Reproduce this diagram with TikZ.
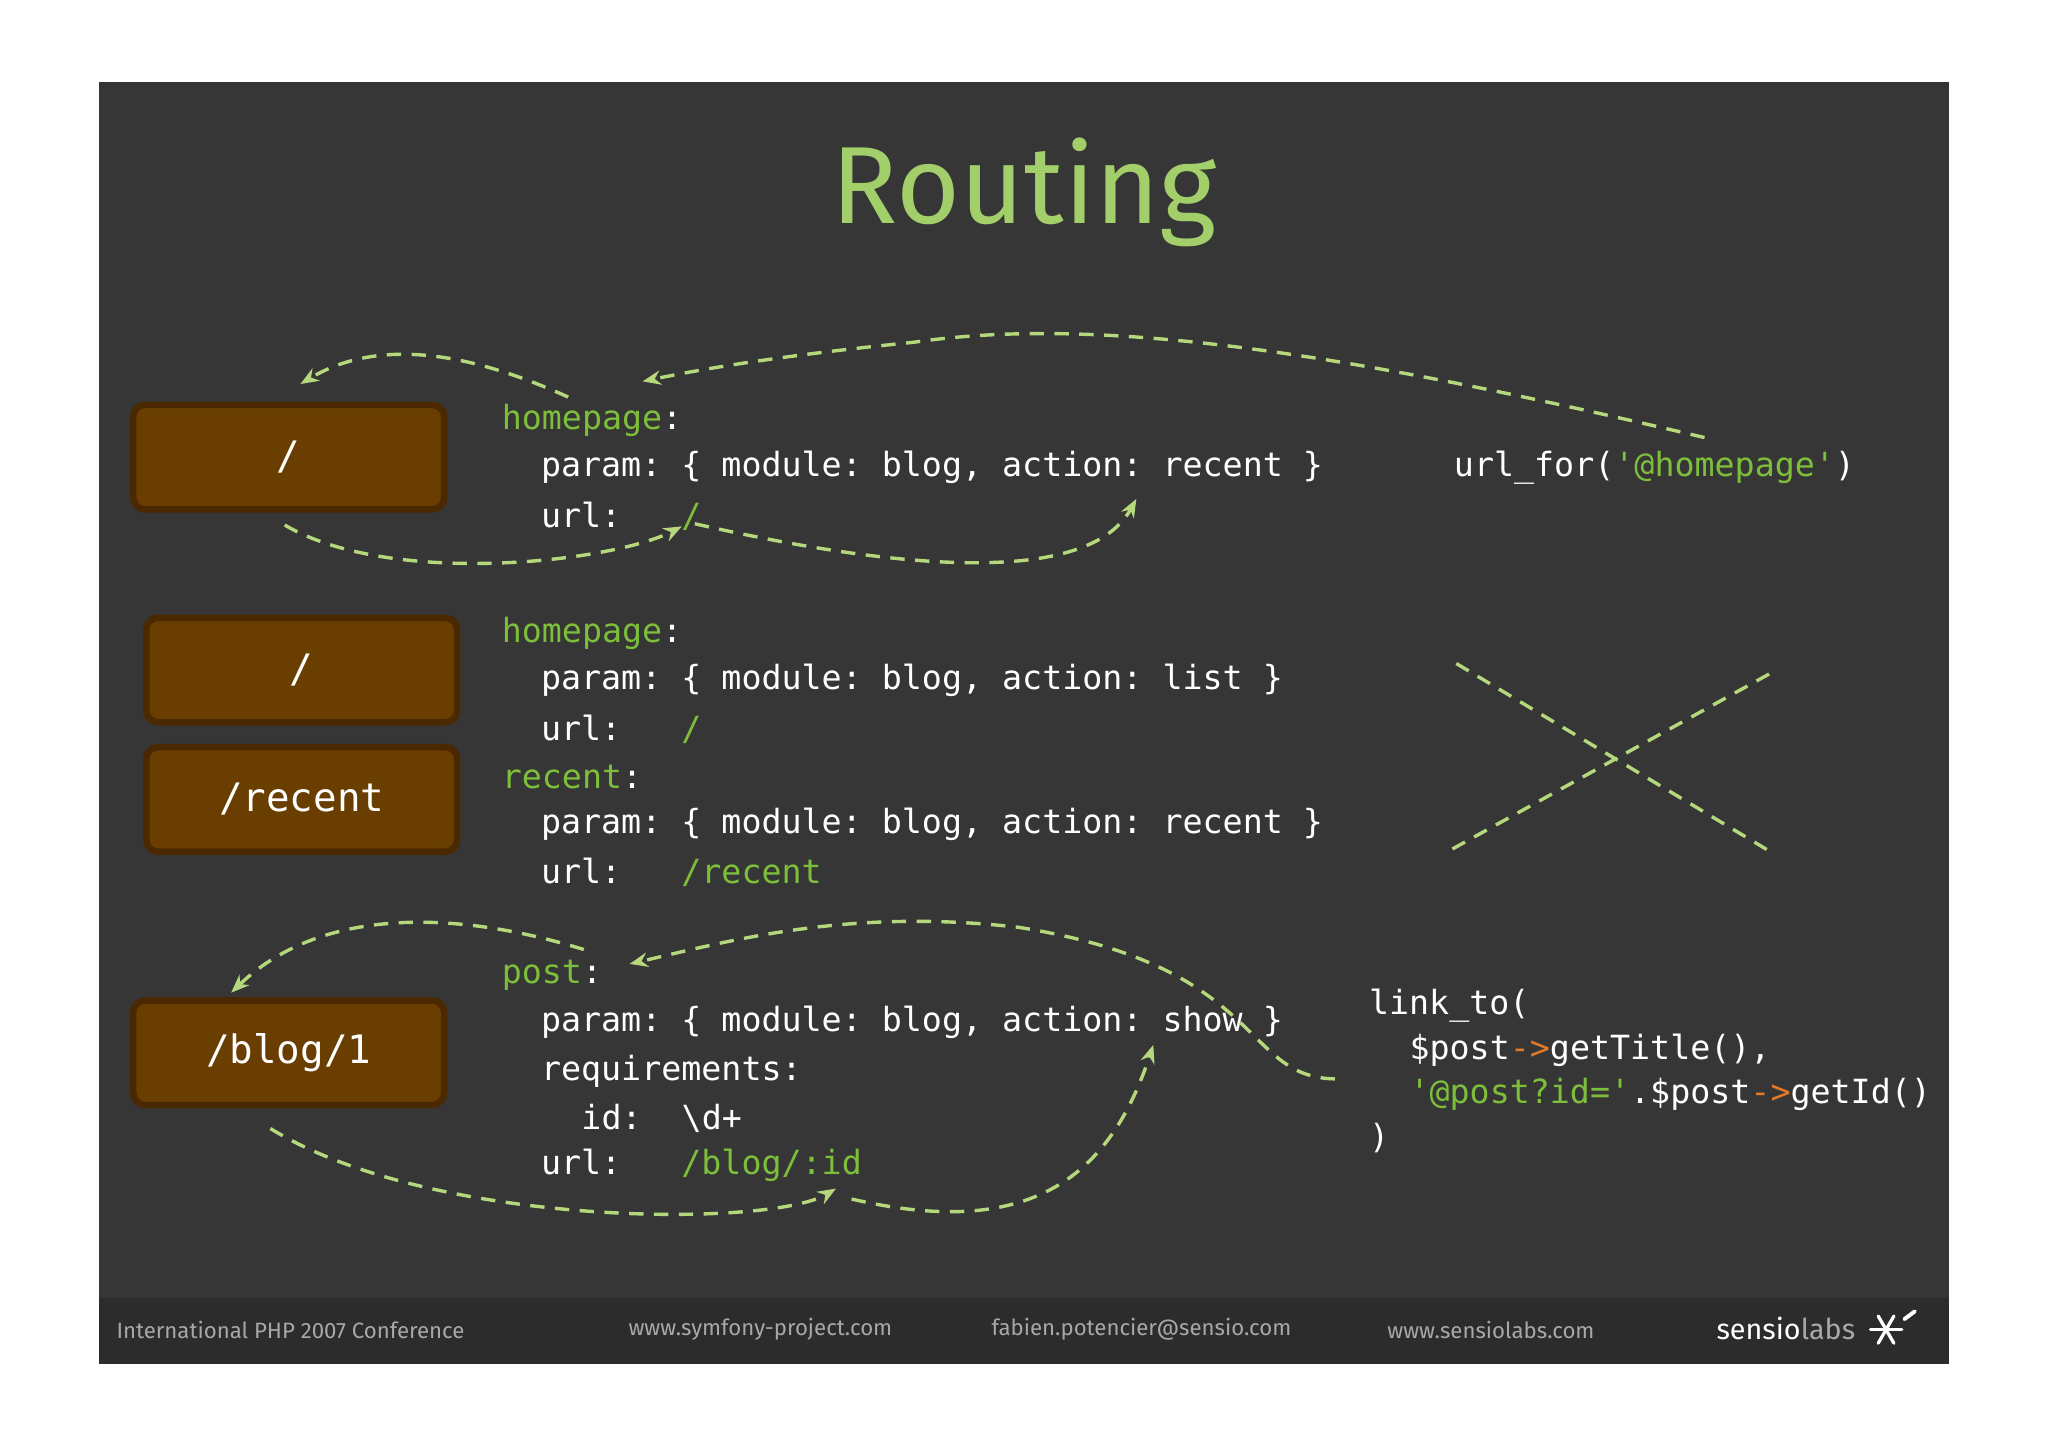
\documentclass[tikz,border=0pt]{standalone}
\usepackage{fontspec}
\setmonofont{DejaVu Sans Mono}
\setmainfont{Fira Sans}
\usetikzlibrary{arrows.meta}
\definecolor{bg}{HTML}{363636}
\definecolor{foot}{HTML}{2C2C2C}
\definecolor{kw}{HTML}{7DBF3A}
\definecolor{ttl}{HTML}{A3CF6A}
\definecolor{dash}{HTML}{B6D87C}
\definecolor{brown}{HTML}{6A3E00}
\definecolor{browndk}{HTML}{4A2900}
\definecolor{orng}{HTML}{E07A2A}
\definecolor{ft}{HTML}{A8A8A8}
\newcommand{\gr}[1]{\textcolor{kw}{#1}}
\newcommand{\orr}[1]{\textcolor{orng}{#1}}
\tikzset{
 code/.style={anchor=west,inner sep=0pt,text=white,font=\ttfamily\fontsize{25.5}{30}\selectfont},
 route/.style={draw=browndk,line width=5pt,fill=brown,rounded corners=9pt,text=white,font=\ttfamily\fontsize{30}{34}\selectfont,minimum width=238pt,minimum height=80pt},
 dl/.style={draw=dash,line width=2.6pt,dash pattern=on 11pt off 8pt,-{Stealth[length=14pt,width=11pt]}},
 dx/.style={draw=dash,line width=2.6pt,dash pattern=on 11pt off 8pt},
 foottxt/.style={anchor=west,inner sep=0pt,text=ft,font=\fontsize{17}{20}\selectfont},
}
\begin{document}
\begin{tikzpicture}[x=1pt,y=-1pt]
\useasboundingbox (0,0) rectangle (1568,1107);
\fill[white] (0,0) rectangle (1568,1107);
\fill[bg] (76,63) rectangle (1492,1044);
\fill[foot] (76,994) rectangle (1492,1044);
\node[text=ttl,font=\fontsize{84}{90}\selectfont] (title) at (784,147) {Routing};
% boxes
\node[route] (b1) at (221,350) {/};
\node[route] (b2) at (231,513) {/};
\node[route] (b3) at (231,612) {/recent};
\node[route] (b4) at (221,806) {/blog/1};
% code block 1
\node[code] (h1) at (384,322) {\gr{homepage}:};
\node[code] (p1) at (414,358) {param: \{ module: blog, action: recent \}};
\node[code] (u1) at (414,395) {url:\ \ \ \gr{/}};
\node[code] (uf) at (1113,358) {url\_for(\gr{'@homepage'})};
% block 2
\node[code] (h2) at (384,485) {\gr{homepage}:};
\node[code] (p2) at (414,521) {param: \{ module: blog, action: list \}};
\node[code] (u2) at (414,558) {url:\ \ \ \gr{/}};
\node[code] (r2) at (384,595) {\gr{recent}:};
\node[code] (p3) at (414,631) {param: \{ module: blog, action: recent \}};
\node[code] (u3) at (414,668) {url:\ \ \ \gr{/recent}};
% block 3
\node[code] (h3) at (384,747) {\gr{post}:};
\node[code] (p4) at (414,783) {param: \{ module: blog, action: show \}};
\node[code] (rq) at (414,820) {requirements:};
\node[code] (id) at (445,856) {id:\ \ \textbackslash d+};
\node[code] (u4) at (414,892) {url:\ \ \ \gr{/blog/:id}};
\node[code] (l1) at (1048,770) {link\_to(};
\node[code] (l2) at (1079,804) {\$post\orr{->}getTitle(),};
\node[code] (l3) at (1079,838) {\gr{'@post?id='}.\$post\orr{->}getId()};
\node[code] (l4) at (1048,871) {)};
% connectors
\coordinate (a1s) at (435,304); \coordinate (a1e) at (230,294);
\draw[dl] (a1s) .. controls (360,270) and (290,258) .. (a1e);
\coordinate (a2s) at (1305,335); \coordinate (a2e) at (492,292);
\draw[dl] (a2s) .. controls (1050,275) and (850,240) .. (700,262) .. controls (600,272) and (540,282) .. (a2e);
\coordinate (a3s) at (218,402); \coordinate (a3e) at (522,403);
\draw[dl] (a3s) .. controls (300,450) and (470,430) .. (a3e);
\coordinate (a4s) at (532,401); \coordinate (a4e) at (870,382);
\draw[dl] (a4s) .. controls (660,430) and (830,455) .. (a4e);
\coordinate (x1) at (1115,508); \coordinate (x2) at (1357,653);
\coordinate (x3) at (1112,650); \coordinate (x4) at (1360,513);
\draw[dx] (x1) -- (x2); \draw[dx] (x3) -- (x4);
\coordinate (a5s) at (447,727); \coordinate (a5e) at (177,760);
\draw[dl] (a5s) .. controls (360,700) and (250,690) .. (a5e);
\coordinate (a6s) at (1022,826); \coordinate (a6e) at (482,738);
\draw[dl] (a6s) .. controls (950,825) and (970,740) .. (780,710) .. controls (650,695) and (560,720) .. (a6e);
\coordinate (a7s) at (207,864); \coordinate (a7e) at (640,910);
\draw[dl] (a7s) .. controls (330,940) and (590,940) .. (a7e);
\coordinate (a8s) at (652,918); \coordinate (a8e) at (883,800);
\draw[dl] (a8s) .. controls (790,950) and (850,900) .. (a8e);
% footer
\node[foottxt] (f1) at (89,1018) {International PHP 2007 Conference};
\node[foottxt] (f2) at (481,1018) {www.symfony-project.com};
\node[foottxt] (f3) at (759,1018) {fabien.potencier@sensio.com};
\node[foottxt] (f4) at (1062,1018) {www.sensiolabs.com};
\node[anchor=west,inner sep=0pt,font=\fontsize{22}{24}\selectfont] (f5) at (1314,1017) {\textcolor{white}{sensio}\textcolor{ft}{labs}};
\coordinate (lg) at (1444,1018);
\foreach \a in {0,60,120,180,240,300}
  \draw[white,line width=2.5pt,line cap=round] (lg) -- ++(\a:12);
\draw[white,line width=3pt,line cap=round] (1458,1010) -- (1466,1004);
\end{tikzpicture}
\end{document}
